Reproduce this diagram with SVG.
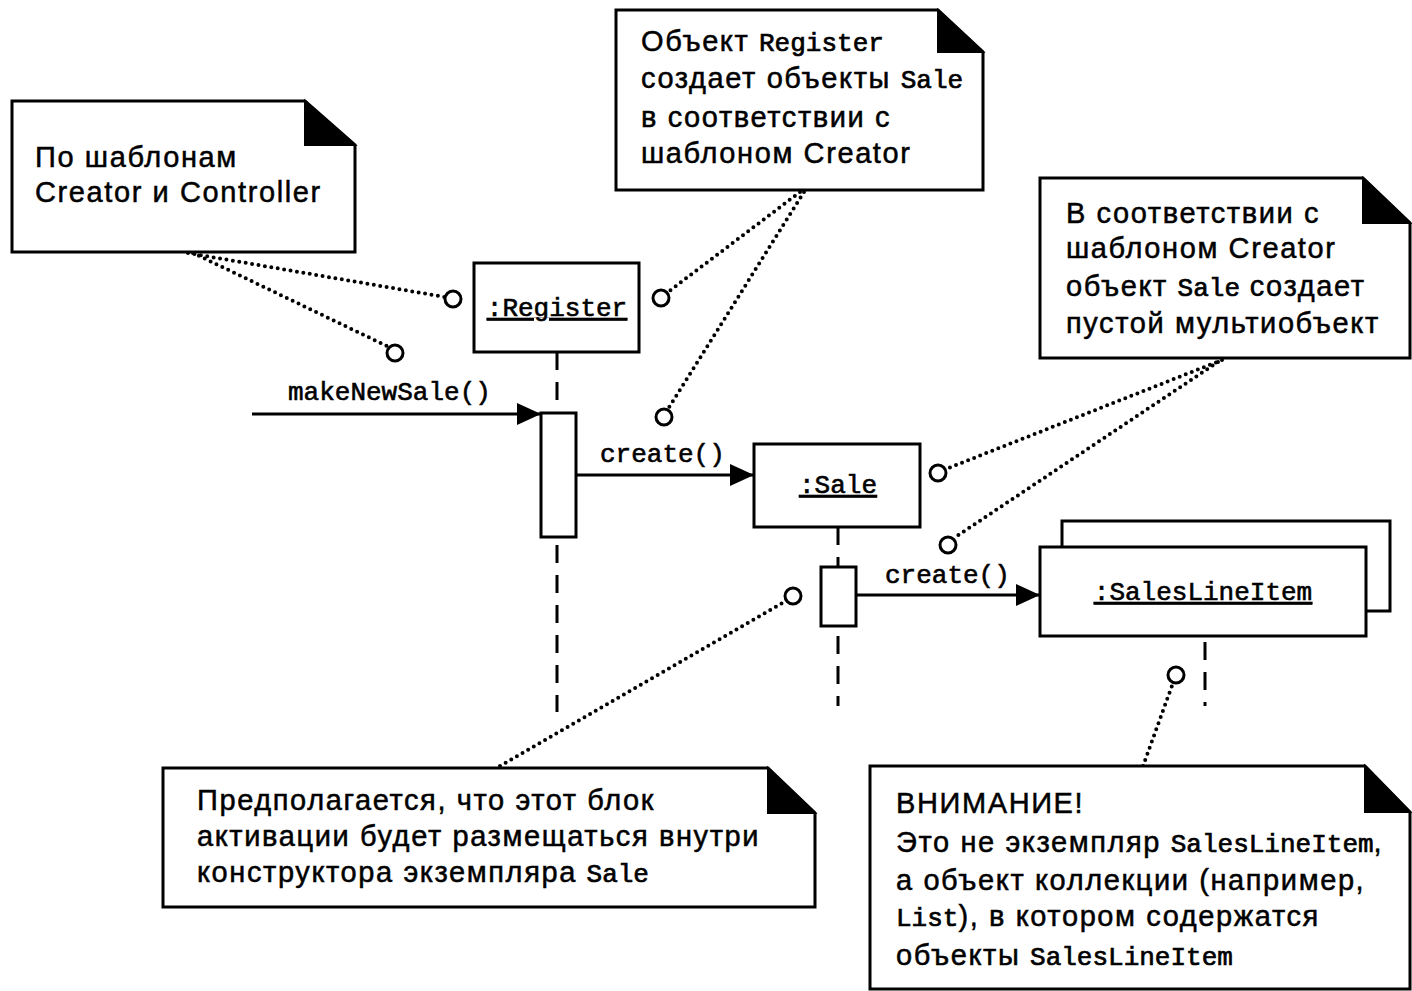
<svg xmlns="http://www.w3.org/2000/svg" width="1412" height="991" viewBox="0 0 1412 991">
  <defs>
    <style>
      .box { fill: #fff; stroke: #000; stroke-width: 3; }
      .fold { fill: #000; stroke: #000; stroke-width: 2; stroke-linejoin: miter; }
      .life { fill: none; stroke: #000; stroke-width: 3; stroke-dasharray: 18 12; }
      .msg { fill: none; stroke: #000; stroke-width: 3; }
      .dot { fill: none; stroke: #000; stroke-width: 4; stroke-linecap: round; stroke-dasharray: 0 6.5; }
      .ring { fill: #fff; stroke: #000; stroke-width: 3; }
      .note { font-family: "Liberation Sans", Arial, sans-serif; font-size: 29px; letter-spacing: 1.6px; fill: #000; stroke: #000; stroke-width: 0.5; }
      .mono { font-family: "Liberation Mono", "Courier New", monospace; font-size: 26px; letter-spacing: 0; stroke-width: 0.7; }
      .label { font-family: "Liberation Mono", "Courier New", monospace; font-size: 26px; fill: #000; stroke: #000; stroke-width: 0.6; }
      .obj { text-decoration: underline; }
    </style>
    <marker id="arrow" viewBox="0 0 24 22" refX="24" refY="11" markerWidth="24" markerHeight="22" markerUnits="userSpaceOnUse" orient="auto">
      <path d="M0,0 L24,11 L0,22 Z" fill="#000"/>
    </marker>
  </defs>

  <!-- lifelines, messages and note links -->
  <g id="connectors">
    <line class="life" x1="557" y1="352" x2="557" y2="413"/>
    <line class="life" x1="557" y1="537" x2="557" y2="712" style="stroke-dashoffset:-8"/>
    <line class="life" x1="838" y1="527" x2="838" y2="567"/>
    <line class="life" x1="838" y1="626" x2="838" y2="706" style="stroke-dashoffset:-10"/>
    <line class="life" x1="1205" y1="636" x2="1205" y2="706" style="stroke-dashoffset:-6"/>

    <line class="msg" x1="252" y1="414" x2="541" y2="414" marker-end="url(#arrow)"/>
    <line class="msg" x1="576" y1="475" x2="754" y2="475" marker-end="url(#arrow)"/>
    <line class="msg" x1="856" y1="595" x2="1040" y2="595" marker-end="url(#arrow)"/>

    <line class="dot" x1="188" y1="253" x2="445" y2="297"/>
    <line class="dot" x1="193" y1="253" x2="389" y2="347"/>
    <line class="dot" x1="800" y1="192" x2="668" y2="292"/>
    <line class="dot" x1="804" y1="192" x2="668" y2="409"/>
    <line class="dot" x1="1222" y1="360" x2="946" y2="469"/>
    <line class="dot" x1="1218" y1="362" x2="954" y2="538"/>
    <line class="dot" x1="500" y1="766" x2="786" y2="601"/>
    <line class="dot" x1="1143" y1="766" x2="1173" y2="683"/>

    <circle class="ring" cx="453" cy="299" r="8"/>
    <circle class="ring" cx="395" cy="353" r="8"/>
    <circle class="ring" cx="661" cy="298" r="8"/>
    <circle class="ring" cx="664" cy="417" r="8"/>
    <circle class="ring" cx="938" cy="473" r="8"/>
    <circle class="ring" cx="948" cy="545" r="8"/>
    <circle class="ring" cx="793" cy="596" r="8"/>
    <circle class="ring" cx="1176" cy="675" r="8"/>

    <text class="label" x="288" y="400">makeNewSale()</text>
    <text class="label" x="600" y="462">create()</text>
    <text class="label" x="885" y="583">create()</text>
  </g>

  <!-- objects -->
  <g id="register">
    <rect class="box" x="474" y="263" width="165" height="89"/>
    <text class="label obj" x="557" y="316" text-anchor="middle">:Register</text>
    <rect class="box" x="541" y="413" width="35" height="124"/>
  </g>

  <g id="sale">
    <rect class="box" x="754" y="444" width="166" height="83"/>
    <text class="label obj" x="838" y="493" text-anchor="middle">:Sale</text>
    <rect class="box" x="821" y="567" width="35" height="59"/>
  </g>

  <g id="salesLineItem">
    <rect class="box" x="1062" y="521" width="328" height="90"/>
    <rect class="box" x="1040" y="547" width="326" height="89"/>
    <text class="label obj" x="1203" y="600" text-anchor="middle">:SalesLineItem</text>
  </g>

  <!-- notes -->
  <g id="note-controller">
    <path class="box" d="M12,101 H305 L355,145 V252 H12 Z"/>
    <path class="fold" d="M305,101 V145 H355 Z"/>
    <text class="note" x="35" y="167">По шаблонам</text>
    <text class="note" x="35" y="202">Creator и Controller</text>
  </g>

  <g id="note-register">
    <path class="box" d="M616,10 H938 L983,52 V190 H616 Z"/>
    <path class="fold" d="M938,10 V52 H983 Z"/>
    <text class="note" x="641" y="51">Объект <tspan class="mono">Register</tspan></text>
    <text class="note" x="641" y="88">создает объекты <tspan class="mono">Sale</tspan></text>
    <text class="note" x="641" y="127">в соответствии с</text>
    <text class="note" x="641" y="163">шаблоном Creator</text>
  </g>

  <g id="note-sale">
    <path class="box" d="M1040,178 H1363 L1410,223 V358 H1040 Z"/>
    <path class="fold" d="M1363,178 V223 H1410 Z"/>
    <text class="note" x="1066" y="223">В соответствии с</text>
    <text class="note" x="1066" y="258">шаблоном Creator</text>
    <text class="note" x="1066" y="296">объект <tspan class="mono">Sale</tspan>  создает</text>
    <text class="note" x="1066" y="333">пустой мультиобъект</text>
  </g>

  <g id="note-activation">
    <path class="box" d="M163,768 H768 L815,813 V907 H163 Z"/>
    <path class="fold" d="M768,768 V813 H815 Z"/>
    <text class="note" x="197" y="810">Предполагается, что этот блок</text>
    <text class="note" x="197" y="846">активации будет размещаться внутри</text>
    <text class="note" x="197" y="882">конструктора экземпляра <tspan class="mono">Sale</tspan></text>
  </g>

  <g id="note-collection">
    <path class="box" d="M870,766 H1365 L1410,812 V989 H870 Z"/>
    <path class="fold" d="M1365,766 V812 H1410 Z"/>
    <text class="note" x="896" y="813">ВНИМАНИЕ!</text>
    <text class="note" x="896" y="852">Это не экземпляр <tspan class="mono">SalesLineItem</tspan>,</text>
    <text class="note" x="896" y="890">а объект коллекции (например,</text>
    <text class="note" x="896" y="926"><tspan class="mono">List</tspan>), в котором содержатся</text>
    <text class="note" x="896" y="965">объекты <tspan class="mono">SalesLineItem</tspan></text>
  </g>
</svg>
